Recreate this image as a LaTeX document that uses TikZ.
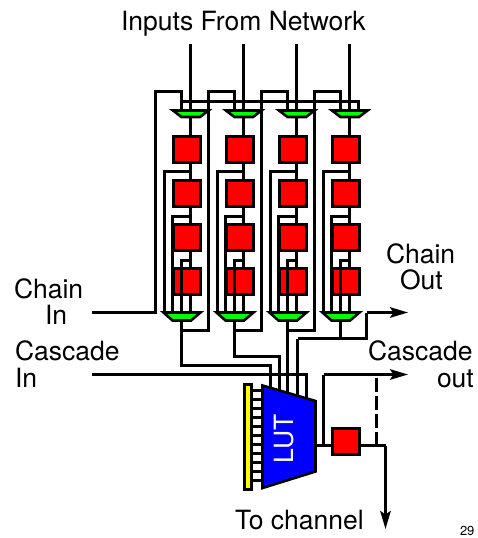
\documentclass[tikz,border=0pt]{standalone}
\usepackage{fontspec}
\setmainfont{TeX Gyre Heros}
\usetikzlibrary{arrows.meta}
\definecolor{regred}{rgb}{1,0,0}
\definecolor{muxgreen}{rgb}{0,1,0}
\definecolor{lutblue}{rgb}{0,0,1}
\definecolor{memyellow}{rgb}{1,1,0}
\tikzset{
  x=1pt,y=-1pt,
  wire/.style={line width=2.6pt,line join=miter},
  reg/.style={draw,line width=2.6pt,fill=regred,minimum width=27pt,minimum height=26pt,inner sep=0pt,outer sep=0pt},
  mux/.style={draw,line width=2.6pt,fill=muxgreen,line join=miter},
  lbl/.style={font=\fontsize{26.5}{28}\selectfont,inner sep=0pt,outer sep=0pt,anchor=base west},
  arrow/.style={-{Stealth[length=18pt,width=10.5pt,inset=3.5pt]}},
}
\begin{document}
\begin{tikzpicture}
\useasboundingbox (0,0) rectangle (478,538);
\fill[white] (0,0) rectangle (478,538);
% coordinates common to the chain
\coordinate (topbarL) at (181.5,101.5);
\coordinate (chainin) at (92,312.5);
\coordinate (chainturn) at (155.5,312.5);
\coordinate (chaintop) at (155.5,91.5);
% columns
\foreach \c/\xo in {1/0,2/53,3/106,4/159}{
  \begin{scope}[shift={(\xo,0)}]
    \coordinate (in\c) at (190.5,44);
    \coordinate (tl\c) at (181.5,91.5);
    \coordinate (tlm\c) at (181.5,109);
    \coordinate (mo\c) at (190.5,118);
    \coordinate (bmLa\c) at (164.5,312);
    \coordinate (bmLb\c) at (172.5,312);
    \coordinate (bmLc\c) at (181.5,312);
    \coordinate (bmLd\c) at (190.5,312);
    \coordinate (bo\c) at (181.5,322);
    \coordinate (bl\c) at (181.5,330.5);
    \coordinate (br\c) at (208.5,330.5);
    \coordinate (rt\c) at (208.5,91.5);
    \draw[wire] (in\c) -- (mo\c);
    \draw[wire] (190.5,118) -- (190.5,136);
    \draw[wire] (190.5,162) -- (190.5,180);
    \draw[wire] (190.5,206) -- (190.5,224);
    \draw[wire] (190.5,250) -- (190.5,268);
    \draw[wire] (190.5,294) -- (bmLd\c);
    \draw[wire] (190.5,171.5) -- (164.5,171.5) -- (bmLa\c);
    \node[reg] (r\c a) at (187,149.5) {};
    \node[reg] (r\c b) at (187,193.5) {};
    \node[reg] (r\c c) at (187,237.5) {};
    \node[reg] (r\c d) at (187,281.5) {};
    \draw[wire] (190.5,216.5) -- (172.5,216.5) -- (bmLb\c);
    \draw[wire] (190.5,260.5) -- (181.5,260.5) -- (bmLc\c);
    \draw[mux] (173,110.5) -- (208.5,110.5) -- (200,117) -- (181.5,117) -- cycle;
    \draw[mux] (163.5,312.5) -- (200.5,312.5) -- (191,320.5) -- (172.5,320.5) -- cycle;
  \end{scope}
}
% loop wires from mux to next mux
\draw[wire] (chainin) -- (chainturn) -- (chaintop) -- (tl1) -- (tlm1);
\draw[wire] (bo1) -- (bl1) -- (br1) -- (rt1) -- (tl2) -- (tlm2);
\draw[wire] (bo2) -- (bl2) -- (br2) -- (rt2) -- (tl3) -- (tlm3);
\draw[wire] (bo3) -- (bl3) -- (br3) -- (rt3) -- (tl4) -- (tlm4);
\draw[wire] (topbarL) -- (358.5,101.5) -- (358.5,109);
% LUT inputs
\coordinate (cin) at (92,374.5);
\draw[wire] (cin) -- (306.5,374.5) -- (306.5,400);
\draw[wire] (bo1) -- (181.5,365.5) -- (270.5,365.5) -- (270.5,390);
\draw[wire] (bo2) -- (234.5,356.5) -- (279.5,356.5) -- (279.5,393);
\draw[wire] (bo3) -- (287.5,396);
\draw[wire] (297.5,338.5) -- (297.5,398);
\coordinate (chainoutturn) at (366.5,338.5);
\draw[wire] (297.5,338.5) -- (chainoutturn) -- (366.5,312.5);
\draw[wire] (bo4) -- (340.5,338.5);
\coordinate (chainout) at (408,312.5);
\draw[wire,arrow] (366.5,312.5) -- (chainout);
% memory ladder
\foreach \yy in {390.5,399.5,408.5,417.5,426.5,435.5,444.5,453.5,462.5,471.5,480.5}{
  \draw[line width=2.6pt] (252,\yy) -- (262,\yy);
}
\node[draw,line width=2.6pt,fill=memyellow,minimum width=7pt,minimum height=105pt,inner sep=0pt,outer sep=0pt] (mem) at (248,437) {};
\fill[lutblue,draw=black,line width=2.6pt,line join=miter] (262.5,385.5) -- (315.5,401) -- (315.5,471.5) -- (262.5,488) -- cycle;
\node[rotate=90,font=\fontsize{26.5}{28}\selectfont,white,inner sep=0pt] (lut) at (284,439) {LUT};
% output
\node[reg] (ff) at (346,441.5) {};
\draw[wire] (316,445.5) -- (ff.west |- 0,445.5);
\coordinate (cturn) at (323.5,374.5);
\coordinate (cout) at (408,374.5);
\draw[wire] (323.5,445.5) -- (cturn);
\draw[wire,arrow] (cturn) -- (cout);
\coordinate (fork) at (376.5,445.5);
\coordinate (dashtop) at (376.5,378);
\coordinate (corner) at (385.5,445.5);
\coordinate (chan) at (385.5,529);
\draw[wire] (ff.east |- 0,445.5) -- (corner);
\draw[wire,arrow] (corner) -- (chan);
\draw[wire,dash pattern=on 13.5pt off 4.6pt] (dashtop) -- (fork);
% labels
\node[lbl] (t1) at (121,30) {Inputs From Network};
\node[lbl] (t2) at (386,263) {Chain};
\node[lbl] (t3) at (400,289) {Out};
\node[lbl] (t4) at (14,298) {Chain};
\node[lbl] (t5) at (45,324) {In};
\node[lbl] (t6) at (15,360) {Cascade};
\node[lbl] (t7) at (15,387) {In};
\node[lbl] (t8) at (368,360) {Cascade};
\node[lbl] (t9) at (437,387) {out};
\node[lbl] (t10) at (235,529) {To channel};
\node[lbl,font=\fontsize{13}{14}\selectfont] (t11) at (460,535) {29};
\end{tikzpicture}
\end{document}
